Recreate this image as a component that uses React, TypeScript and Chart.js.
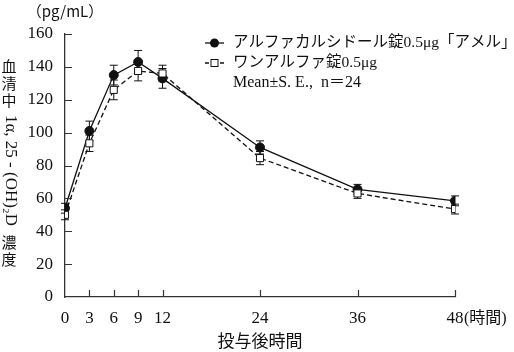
import React, { useEffect, useRef } from 'react';
import { Chart, registerables } from 'chart.js';

Chart.register(...registerables);

// ---- data ----
const hours = [0, 3, 6, 9, 12, 24, 36, 48];
const amelMean = [54, 101, 135, 143, 133, 91, 65.5, 58.5];
const amelSE = [3, 6, 6, 7, 6, 4, 3, 3];
const oneMean = [50, 93.5, 126, 137.5, 136, 84.5, 63, 53.5];
const oneSE = [3, 5, 6, 6, 5, 4, 3, 3];

const xTickValues = [0, 3, 6, 9, 12, 24, 36, 48];
const yTickValues = [0, 20, 40, 60, 80, 100, 120, 140, 160];

const seriesLabels = ['アルファカルシドール錠0.5μg「アメル」', 'ワンアルファ錠0.5μg'];
const legendNote = 'Mean±S. E.,  n＝24';
const yUnit = '（pg/mL）';
const yTitleTop = ['血', '清', '中'];
const yTitleMid = '1α, 25 - (OH)₂D';
const yTitleBottom = ['濃', '度'];
const xTitle = '投与後時間';
const xUnit = '(時間)';

const SERIF = "'Liberation Serif', 'Noto Sans CJK JP', serif";
const CJK = "'Noto Sans CJK JP', 'Liberation Serif', serif";
const INK = '#111';

const extrasPlugin = {
  id: 'extras',
  beforeDatasetsDraw(chart: any) {
    const ctx = chart.ctx;
    const xs = chart.scales.x;
    const ys = chart.scales.y;
    const draw = (means: number[], ses: number[]) => {
      means.forEach((m, i) => {
        const x = xs.getPixelForValue(hours[i]);
        const t = ys.getPixelForValue(m + ses[i]);
        const b = ys.getPixelForValue(m - ses[i]);
        ctx.beginPath();
        ctx.moveTo(x, t);
        ctx.lineTo(x, b);
        ctx.moveTo(x - 4, t);
        ctx.lineTo(x + 4, t);
        ctx.moveTo(x - 4, b);
        ctx.lineTo(x + 4, b);
        ctx.stroke();
      });
    };
    ctx.save();
    ctx.strokeStyle = INK;
    ctx.lineWidth = 1;
    draw(amelMean, amelSE);
    draw(oneMean, oneSE);
    ctx.restore();
  },
  afterDraw(chart: any) {
    const ctx = chart.ctx;
    const xs = chart.scales.x;
    const ys = chart.scales.y;
    const area = chart.chartArea;
    ctx.save();
    // inner ticks
    ctx.strokeStyle = '#333';
    ctx.lineWidth = 1.2;
    ctx.beginPath();
    yTickValues.forEach((v) => {
      if (v === 0) return;
      const y = Math.round(ys.getPixelForValue(v)) + 0.5;
      ctx.moveTo(area.left, y);
      ctx.lineTo(area.left + 7, y);
    });
    xTickValues.forEach((v) => {
      if (v === 0) return;
      const x = Math.round(xs.getPixelForValue(v)) + 0.5;
      ctx.moveTo(x, area.bottom);
      ctx.lineTo(x, area.bottom - 7);
    });
    ctx.stroke();

    ctx.fillStyle = INK;
    // unit label
    ctx.font = `15px ${CJK}`;
    ctx.textAlign = 'center';
    ctx.textBaseline = 'middle';
    ctx.fillText(yUnit, area.left, 11);

    // y-axis vertical title
    const cx = 9;
    ctx.font = `15px ${CJK}`;
    const topY = [66, 83, 100];
    yTitleTop.forEach((c, i) => ctx.fillText(c, cx, topY[i]));
    const botY = [242, 259];
    yTitleBottom.forEach((c, i) => ctx.fillText(c, cx, botY[i]));
    ctx.save();
    ctx.translate(cx + 1, (108 + 233) / 2);
    ctx.rotate(Math.PI / 2);
    ctx.font = `17px ${SERIF}`;
    ctx.fillText(yTitleMid, 0, 0);
    ctx.restore();

    // x title and unit
    ctx.font = `17px ${CJK}`;
    ctx.textAlign = 'center';
    ctx.fillText(xTitle, (area.left + area.right) / 2, 341);
    ctx.font = `16px ${SERIF}`;
    ctx.textAlign = 'left';
    ctx.fillText(xUnit, xs.getPixelForValue(48) + 9, 319);

    // legend
    const lx = 205;
    const rows = [43, 63];
    ctx.strokeStyle = INK;
    ctx.lineWidth = 1.3;
    // row 1: solid line + filled circle
    ctx.beginPath();
    ctx.moveTo(lx, rows[0]);
    ctx.lineTo(lx + 19, rows[0]);
    ctx.stroke();
    ctx.beginPath();
    ctx.arc(lx + 9.5, rows[0], 4.5, 0, Math.PI * 2);
    ctx.fill();
    // row 2: dashed line + open square
    ctx.beginPath();
    ctx.moveTo(lx, rows[1]);
    ctx.lineTo(lx + 4, rows[1]);
    ctx.moveTo(lx + 15, rows[1]);
    ctx.lineTo(lx + 19, rows[1]);
    ctx.stroke();
    ctx.lineWidth = 1;
    ctx.fillStyle = '#fff';
    ctx.fillRect(lx + 6, rows[1] - 3.5, 7, 7);
    ctx.strokeRect(lx + 6, rows[1] - 3.5, 7, 7);
    ctx.fillStyle = INK;
    ctx.textAlign = 'left';
    ctx.font = `15.5px ${SERIF}`;
    ctx.fillText(seriesLabels[0], 233, rows[0]);
    ctx.fillText(seriesLabels[1], 233, rows[1]);
    ctx.font = `16px ${SERIF}`;
    ctx.fillText(legendNote, 233, 83);
    ctx.restore();
  },
};

export default function App() {
  const ref = useRef<HTMLCanvasElement | null>(null);
  useEffect(() => {
    if (!ref.current) return;
    const chart = new Chart(ref.current, {
      type: 'line',
      data: {
        datasets: [
          {
            label: seriesLabels[0],
            data: hours.map((h, i) => ({ x: h, y: amelMean[i] })),
            borderColor: INK,
            borderWidth: 1.3,
            pointStyle: 'circle',
            pointRadius: 4.5,
            pointBackgroundColor: INK,
            pointBorderColor: INK,
            pointBorderWidth: 1,
            fill: false,
            tension: 0,
            order: 2,
          },
          {
            label: seriesLabels[1],
            data: hours.map((h, i) => ({ x: h, y: oneMean[i] })),
            borderColor: INK,
            borderWidth: 1.3,
            borderDash: [5, 3],
            pointStyle: 'rect',
            pointRadius: 5,
            pointBackgroundColor: '#fff',
            pointBorderColor: INK,
            pointBorderWidth: 1,
            fill: false,
            tension: 0,
            order: 1,
          },
        ],
      },
      options: {
        animation: false,
        responsive: true,
        maintainAspectRatio: false,
        layout: { padding: { top: 34, right: 59, left: 0, bottom: 0 } },
        plugins: {
          legend: { display: false },
          tooltip: { enabled: false },
          title: { display: false },
        },
        scales: {
          x: {
            type: 'linear',
            min: 0,
            max: 48,
            afterBuildTicks: (s: any) => {
              s.ticks = xTickValues.map((v) => ({ value: v }));
            },
            afterFit: (s: any) => {
              s.height = 55;
            },
            ticks: {
              autoSkip: false,
              maxRotation: 0,
              padding: 11,
              color: INK,
              font: { family: SERIF, size: 17 },
            },
            grid: { display: true, drawOnChartArea: false, drawTicks: false },
            border: { display: true, color: '#333', width: 1.3 },
          },
          y: {
            type: 'linear',
            min: 0,
            max: 160,
            afterBuildTicks: (s: any) => {
              s.ticks = yTickValues.map((v) => ({ value: v }));
            },
            afterFit: (s: any) => {
              s.width = 65;
            },
            ticks: {
              padding: 12,
              color: INK,
              font: { family: SERIF, size: 17 },
            },
            grid: { display: true, drawOnChartArea: false, drawTicks: false },
            border: { display: true, color: '#333', width: 1.3 },
          },
        },
      },
      plugins: [extrasPlugin],
    });
    return () => chart.destroy();
  }, []);
  return (
    <div style={{ position: 'fixed', left: 0, top: 0, width: 514, height: 352, background: '#fff' }}>
      <canvas ref={ref} />
    </div>
  );
}
